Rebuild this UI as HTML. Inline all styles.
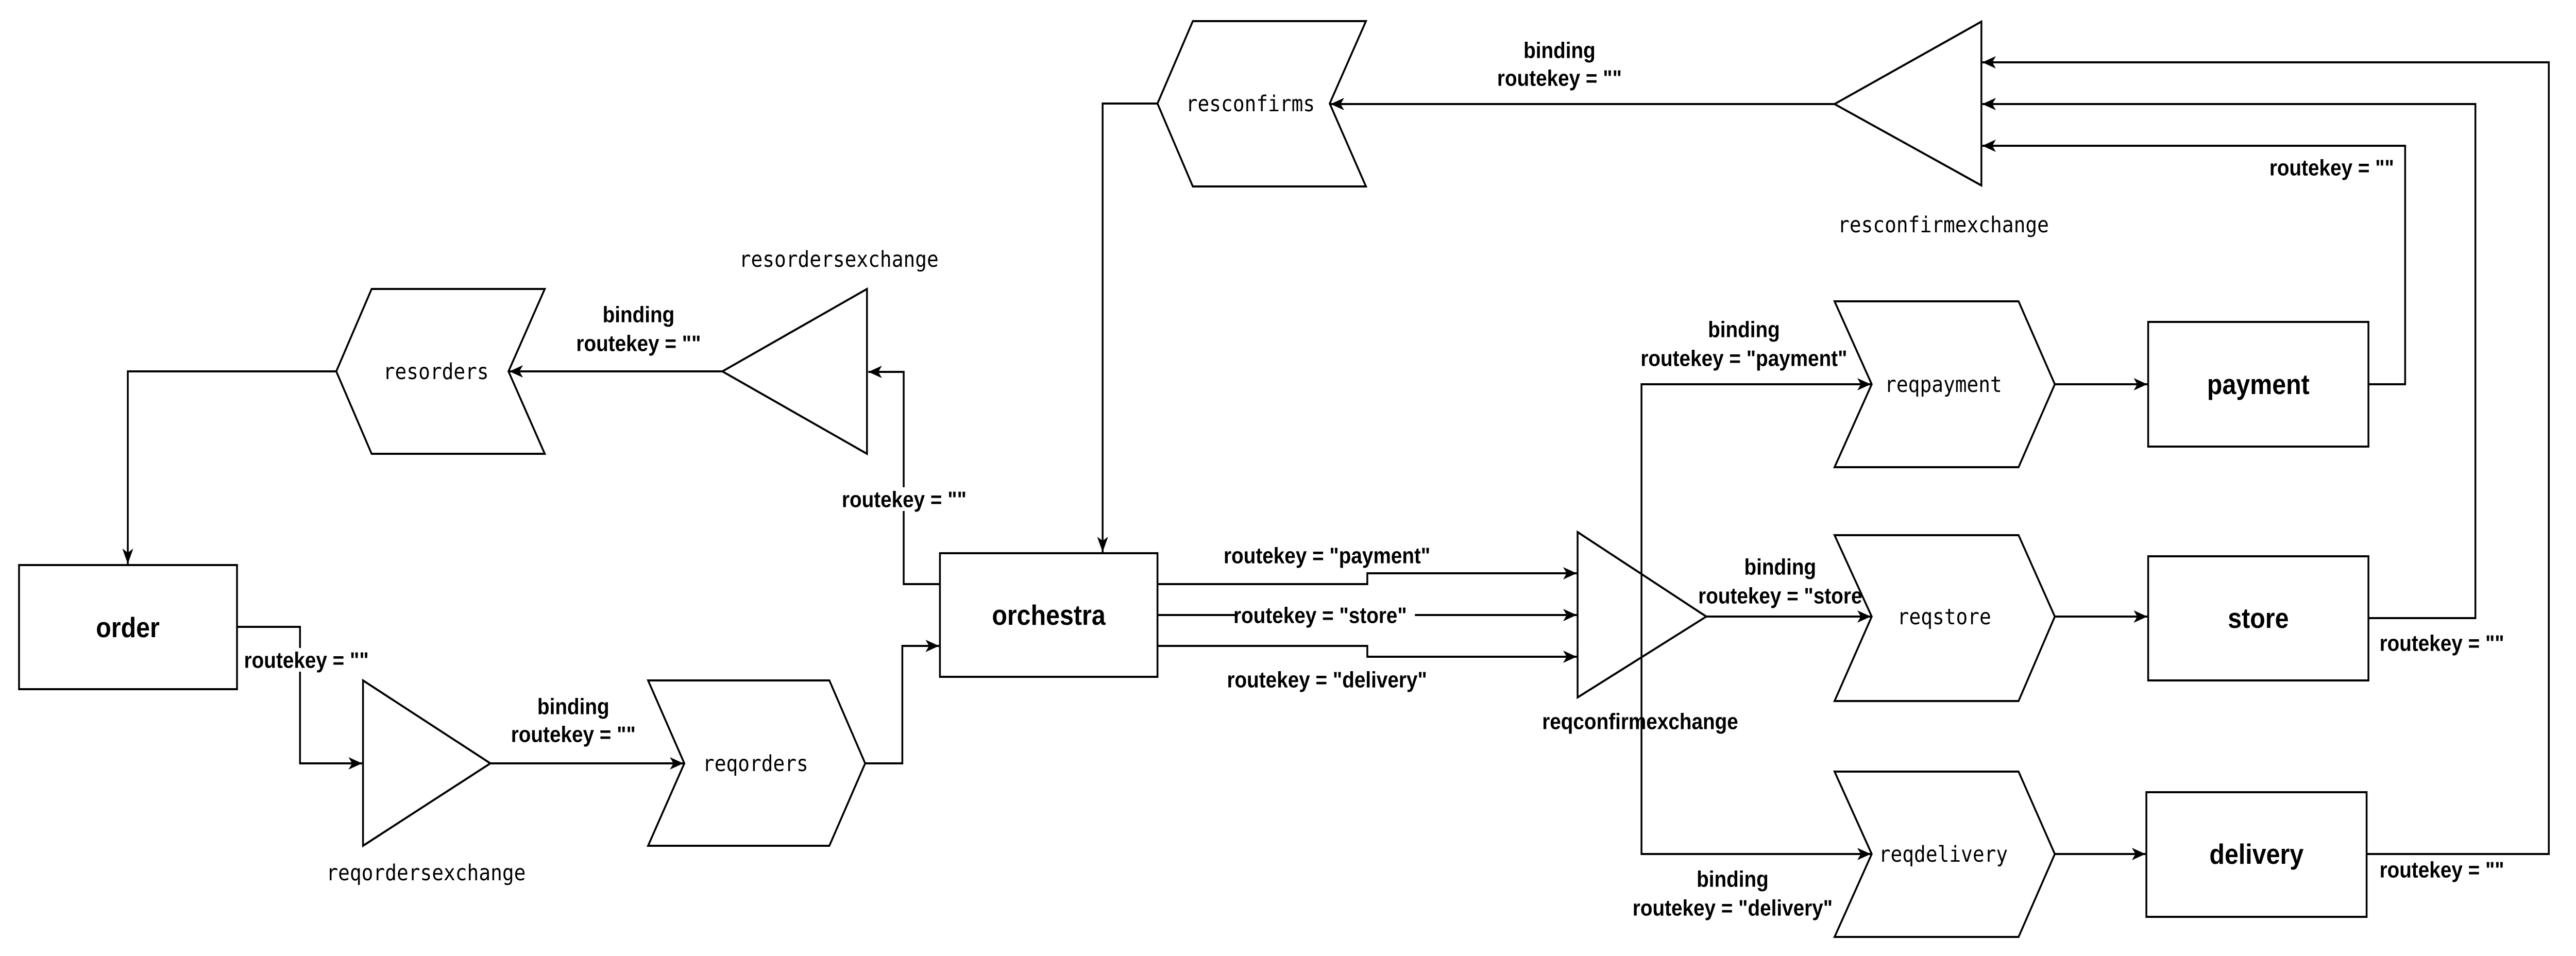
<!DOCTYPE html>
<html><head><meta charset="utf-8"><style>
html,body{margin:0;padding:0;background:#fff;width:100%;height:100%;overflow:hidden}
svg{display:block;width:100vw;height:100vh}
.s{font-family:"Liberation Sans",Arial,sans-serif;font-weight:bold;font-size:44px}
.b{font-family:"Liberation Sans",Arial,sans-serif;font-weight:bold;font-size:55px}
.m{font-family:"DejaVu Sans Mono","Liberation Mono",monospace;font-size:43px}
</style></head><body>
<svg viewBox="0 0 5684 1856" preserveAspectRatio="none" xmlns="http://www.w3.org/2000/svg">
<defs><marker id="a" markerUnits="userSpaceOnUse" markerWidth="32" markerHeight="26" refX="30" refY="12" orient="auto"><path d="M0,0 L30,12 L0,24 L8,12 Z" fill="#000"/></marker></defs>
<rect width="5684" height="1856" fill="#fff"/>
<g fill="#fff" stroke="#000" stroke-width="4">
<polygon points="742,721 820,561 1202,561 1122,721 1202,881 820,881"/>
<polygon points="2554,201 2632,41 3014,41 2934,201 3014,362 2632,362"/>
<polygon points="1430,1321 1830,1321 1909,1482 1830,1642 1430,1642 1510,1482"/>
<polygon points="4048,585 4454,585 4534,746 4454,907 4048,907 4130,746"/>
<polygon points="4048,1039 4454,1039 4534,1197 4454,1361 4048,1361 4130,1197"/>
<polygon points="4048,1498 4454,1498 4534,1658 4454,1819 4048,1819 4130,1658"/>
<polygon points="1594,721 1913,561 1913,881"/>
<polygon points="801,1321 1082,1482 801,1642"/>
<polygon points="3481,1033 3765,1197 3481,1354"/>
<polygon points="4048,202 4372,42 4372,360"/>
<rect x="42" y="1097" width="481" height="241"/>
<rect x="2074" y="1074" width="480" height="240"/>
<rect x="4740" y="625" width="486" height="242"/>
<rect x="4740" y="1080" width="486" height="241"/>
<rect x="4736" y="1538" width="486" height="242"/>
</g>
<g fill="none" stroke="#000" stroke-width="4" marker-end="url(#a)">
<path d="M1594,721 H1124"/>
<path d="M742,721 H282 V1095"/>
<path d="M523,1217 H662 V1482 H799"/>
<path d="M1082,1482 H1508"/>
<path d="M1909,1482 H1991 V1254 H2072"/>
<path d="M2074,1134 H1994 V722 H1916"/>
<path d="M2554,201 H2433 V1072"/>
<path d="M4048,202 H2936"/>
<path d="M2554,1134 H3017 V1113 H3479"/>
<path d="M2554,1194 H3479"/>
<path d="M2554,1254 H3017 V1275 H3479"/>
<path d="M3622,1140 V746 H4128"/>
<path d="M3765,1197 H4128"/>
<path d="M3622,1260 V1658 H4128"/>
<path d="M4534,746 H4738"/>
<path d="M4534,1197 H4738"/>
<path d="M4534,1658 H4734"/>
<path d="M5226,746 H5307 V283 H4374"/>
<path d="M5226,1200 H5462 V202 H4374"/>
<path d="M5222,1658 H5624 V121 H4374"/>
</g>
<g fill="#fff">
<rect x="540" y="1258" width="272" height="46"/>
<rect x="1880" y="946" width="230" height="46"/>
<rect x="2730" y="1172" width="392" height="46"/>
</g>
<g class="s" text-anchor="middle" dominant-baseline="central">
<text x="1409" y="610">binding</text><text x="1409" y="666">routekey = ""</text>
<text x="676" y="1281">routekey = ""</text>
<text x="1265" y="1371">binding</text><text x="1265" y="1425">routekey = ""</text>
<text x="1995" y="969">routekey = ""</text>
<text x="3441" y="97">binding</text><text x="3441" y="151">routekey = ""</text>
<text x="2928" y="1078">routekey = "payment"</text>
<text x="2913" y="1194">routekey = "store"</text>
<text x="2928" y="1319">routekey = "delivery"</text>
<text x="3619" y="1400">reqconfirmexchange</text>
<text x="3848" y="639">binding</text><text x="3848" y="695">routekey = "payment"</text>
<text x="3928" y="1100">binding</text><text x="3928" y="1156">routekey = "store</text>
<text x="3823" y="1706">binding</text><text x="3823" y="1762">routekey = "delivery"</text>
<text x="5145" y="325">routekey = ""</text>
<text x="5388" y="1248">routekey = ""</text>
<text x="5388" y="1688">routekey = ""</text>
</g>
<path d="M3622,1140 V1260" stroke="#000" stroke-width="4"/>
<g class="b" text-anchor="middle" dominant-baseline="central">
<text x="282" y="1218">order</text>
<text x="2314" y="1194">orchestra</text>
<text x="4983" y="746">payment</text>
<text x="4983" y="1200">store</text>
<text x="4979" y="1658">delivery</text>
</g>
<g class="m" text-anchor="middle" dominant-baseline="central">
<text x="962" y="721">resorders</text>
<text x="1667" y="1482">reqorders</text>
<text x="2759" y="201">resconfirms</text>
<text x="4288" y="746">reqpayment</text>
<text x="4290" y="1197">reqstore</text>
<text x="4288" y="1658">reqdelivery</text>
<text x="1851" y="503">resordersexchange</text>
<text x="940" y="1694">reqordersexchange</text>
<text x="4288" y="436">resconfirmexchange</text>
</g>
</svg>
</body></html>
